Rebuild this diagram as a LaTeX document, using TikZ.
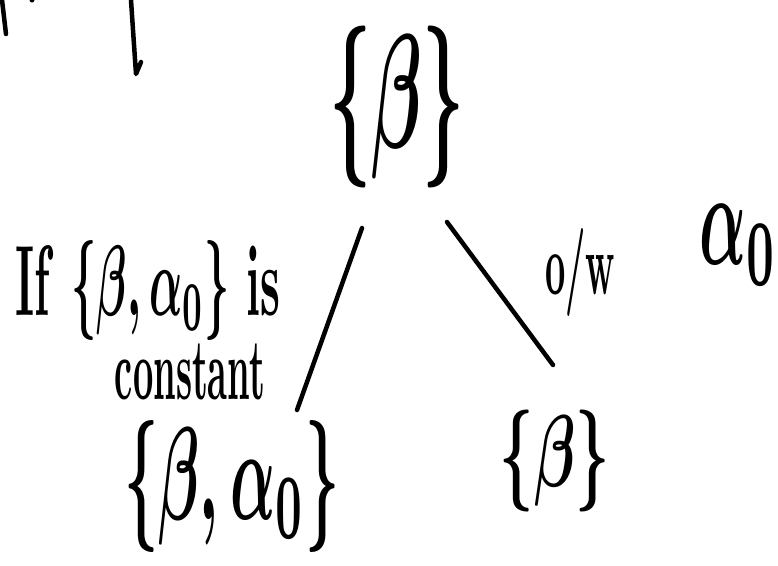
\documentclass[tikz,border=0pt]{standalone}
\usepackage{graphicx}
\usepackage{amsmath}
\tikzset{
  ink/.style={line width=4.5pt, line cap=round, line join=round, draw=black},
  lbl/.style={inner sep=0pt, outer sep=0pt, anchor=center, font=\bfseries\boldmath},
}
\newcommand{\fitbox}[3]{\resizebox*{#1}{#2}{#3}}
\begin{document}
\begin{tikzpicture}[x=1pt,y=-1pt]
\useasboundingbox[fill=white] (0,0) rectangle (778,565);
% cut-off strokes at the top left
\coordinate (s1a) at (2,0); \coordinate (s1b) at (6,34);
\draw[ink] (s1a) -- (s1b);
\coordinate (s2a) at (131,0); \coordinate (s2b) at (136,74); \coordinate (s2c) at (141,62);
\draw[ink] (s2a) .. controls (133,30) .. (s2b) -- (s2c);
\fill (32,0) circle (2.5pt);
% nodes
\node[lbl] (top) at (397,107) {\fitbox{135pt}{162pt}{$\{\beta\}$}};
\node[lbl] (cond) at (148,290) {\fitbox{265pt}{100pt}{$\mathrm{If}\ \{\beta,\alpha_0\}\ \mathrm{is}$}};
\node[lbl] (cons) at (190,372) {\fitbox{150pt}{56pt}{constant}};
\node[lbl] (ow) at (580,272) {\fitbox{70pt}{88pt}{o/w}};
\node[lbl] (al) at (739,245) {\fitbox{78pt}{80pt}{$\alpha_0$}};
\node[lbl] (bl) at (232,486) {\fitbox{215pt}{132pt}{$\{\beta,\alpha_0\}$}};
\node[lbl] (br) at (555,461) {\fitbox{110pt}{102pt}{$\{\beta\}$}};
% connectors
\coordinate (e1a) at (362,228); \coordinate (e1b) at (297,410);
\coordinate (e2a) at (447,222); \coordinate (e2b) at (553,365);
\draw[ink] (e1a) -- (e1b);
\draw[ink] (e2a) -- (e2b);
\end{tikzpicture}
\end{document}
